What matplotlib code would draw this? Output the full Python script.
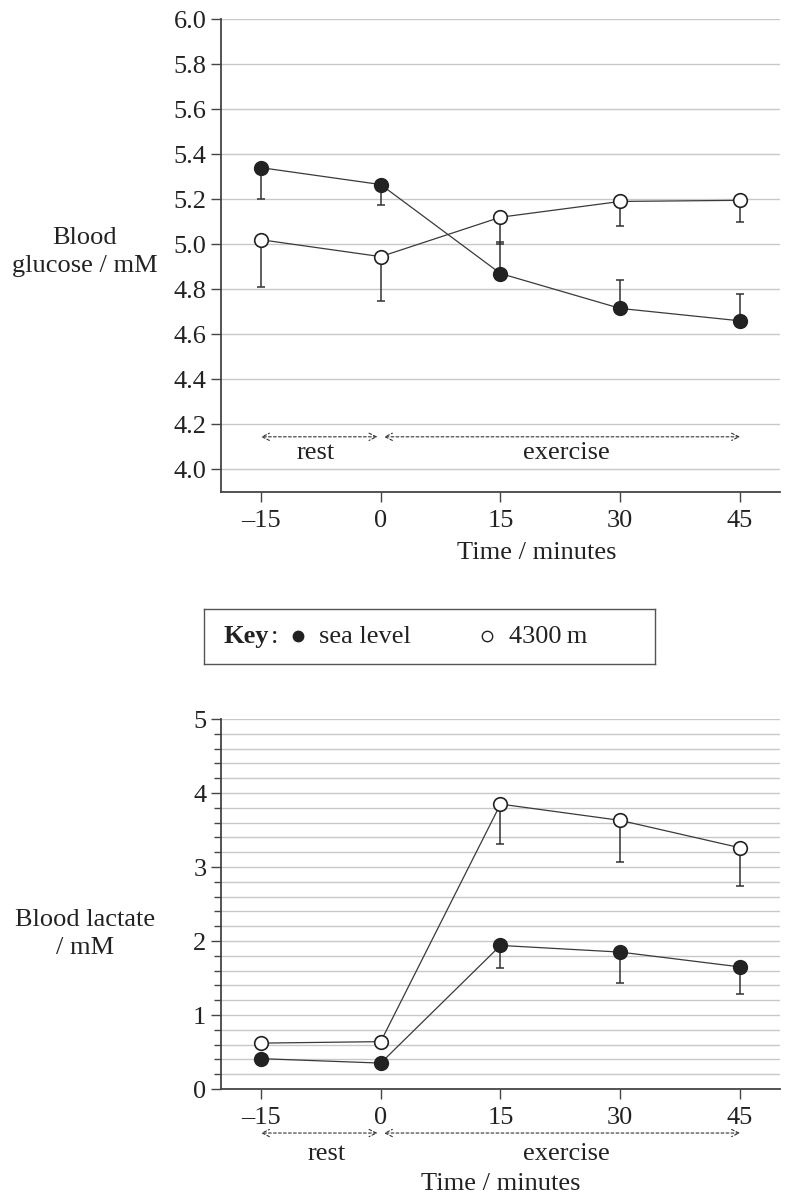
import matplotlib
matplotlib.use('Agg')
import matplotlib.pyplot as plt
import numpy as np

plt.rcParams['font.family'] = 'Liberation Serif'
plt.rcParams['font.size'] = 19

# time points (minutes)
times = [-15, 0, 15, 30, 45]
time_ticks = [-15, 0, 15, 30, 45]

# blood glucose / mM, error bars drawn one way only
glu_sea = [5.34, 5.265, 4.87, 4.715, 4.66]
glu_sea_lo = [0.14, 0.09, 0.0, 0.0, 0.0]
glu_sea_hi = [0.0, 0.0, 0.14, 0.125, 0.12]
glu_alt = [5.02, 4.945, 5.12, 5.19, 5.195]
glu_alt_lo = [0.21, 0.195, 0.12, 0.11, 0.095]
glu_alt_hi = [0.0, 0.0, 0.0, 0.0, 0.0]

# blood lactate / mM
lac_sea = [0.41, 0.35, 1.94, 1.85, 1.65]
lac_sea_lo = [0.0, 0.0, 0.31, 0.42, 0.37]
lac_sea_hi = [0.0, 0.0, 0.0, 0.0, 0.0]
lac_alt = [0.62, 0.64, 3.85, 3.63, 3.26]
lac_alt_lo = [0.0, 0.0, 0.54, 0.56, 0.52]
lac_alt_hi = [0.0, 0.0, 0.0, 0.0, 0.0]

dark = '#222222'
grid_c = '#c8c8c8'


def series(ax, y, lo, hi, filled):
    ax.errorbar(times, y, yerr=[lo, hi], fmt='none', ecolor='#333333',
                elinewidth=1.1, capsize=3.2, capthick=1.1, zorder=2)
    ax.plot(times, y, color='#3a3a3a', lw=0.9, zorder=2.5)
    ax.plot(times, y, ls='none', marker='o', ms=9.8,
            mfc=dark if filled else 'white', mec=dark, mew=1.2, zorder=3)


def style(ax):
    for s in ['top', 'right']:
        ax.spines[s].set_visible(False)
    for s in ['left', 'bottom']:
        ax.spines[s].set_color('#444444')
        ax.spines[s].set_linewidth(1.3)
    ax.tick_params(which='both', direction='out', color='#444444',
                   labelcolor='#222222', width=1.0)
    ax.tick_params(which='major', length=7)
    ax.tick_params(axis='x', pad=6)
    ax.set_xlim(-20, 50)
    ax.set_xticks(time_ticks)
    ax.set_xticklabels([str(t) if t >= 0 else '\u2013' + str(-t) for t in time_ticks])


def phases(ax, y, xy_coords):
    kw = dict(arrowstyle='<->', linestyle=(0, (2.5, 2)), lw=0.8,
              color='#333333', shrinkA=0, shrinkB=0, mutation_scale=13)
    ax.annotate('', xy=(-15, y), xytext=(-0.4, y), xycoords=xy_coords,
                arrowprops=kw, annotation_clip=False)
    ax.annotate('', xy=(0.4, y), xytext=(45, y), xycoords=xy_coords,
                arrowprops=kw, annotation_clip=False)


fig = plt.figure(figsize=(7.87, 12.02), dpi=100)

# ---------------- glucose ----------------
ax1 = fig.add_axes([221 / 787, 1 - 492 / 1202, 559 / 787, 473 / 1202])
ax1.set_ylim(3.9, 6.0)
ax1.set_yticks(np.arange(4.0, 6.01, 0.2))
ax1.set_yticklabels(['%.1f' % v for v in np.arange(4.0, 6.01, 0.2)])
for v in np.arange(4.0, 6.01, 0.2):
    ax1.axhline(v, color=grid_c, lw=1.0, zorder=0)
style(ax1)
series(ax1, glu_sea, glu_sea_lo, glu_sea_hi, True)
series(ax1, glu_alt, glu_alt_lo, glu_alt_hi, False)
phases(ax1, 4.145, 'data')
ax1.text(-8.2, 4.075, 'rest', ha='center', va='center', color='#222222')
ax1.text(23.3, 4.075, 'exercise', ha='center', va='center', color='#222222')
ax1.text(19.6, -0.128, 'Time / minutes', ha='center', va='center',
         transform=ax1.get_xaxis_transform(), color='#222222')
fig.text(85 / 787, 1 - 252 / 1202, 'Blood\nglucose / mM', ha='center',
         va='center', multialignment='center', linespacing=1.35, color='#222222')

# ---------------- key ----------------
axk = fig.add_axes([204 / 787, 1 - 664 / 1202, 451 / 787, 55 / 1202])
axk.set_xlim(0, 451)
axk.set_ylim(0, 55)
axk.set_xticks([])
axk.set_yticks([])
for s in axk.spines.values():
    s.set_color('#555555')
    s.set_linewidth(1.0)
axk.text(19, 27, 'Key', fontweight='bold', ha='left', va='center', color='#222222')
axk.text(67, 27, ':', ha='left', va='center', color='#222222')
axk.plot([94], [28], marker='o', ms=7.5, mfc=dark, mec=dark, ls='none')
axk.text(115, 27, 'sea level', ha='left', va='center', color='#222222')
axk.plot([283], [28], marker='o', ms=7.5, mfc='white', mec=dark, mew=1.0, ls='none')
axk.text(305, 27, '4300\u2009m', ha='left', va='center', color='#222222')

# ---------------- lactate ----------------
ax2 = fig.add_axes([221 / 787, 1 - 1089 / 1202, 559 / 787, 370 / 1202])
ax2.set_ylim(0, 5)
ax2.set_yticks([0, 1, 2, 3, 4, 5])
ax2.set_yticks(np.arange(0.2, 5.0, 0.2), minor=True)
for v in np.arange(0.2, 5.01, 0.2):
    ax2.axhline(v, color=grid_c, lw=1.0, zorder=0)
style(ax2)
ax2.tick_params(which='minor', length=5)
series(ax2, lac_sea, lac_sea_lo, lac_sea_hi, True)
series(ax2, lac_alt, lac_alt_lo, lac_alt_hi, False)
phases(ax2, -0.119, ('data', 'axes fraction'))
ax2.text(-6.8, -0.175, 'rest', ha='center', va='center',
         transform=ax2.get_xaxis_transform(), color='#222222')
ax2.text(23.3, -0.175, 'exercise', ha='center', va='center',
         transform=ax2.get_xaxis_transform(), color='#222222')
ax2.text(15, -0.258, 'Time / minutes', ha='center', va='center',
         transform=ax2.get_xaxis_transform(), color='#222222')
fig.text(85 / 787, 1 - 934 / 1202, 'Blood lactate\n/ mM', ha='center',
         va='center', multialignment='center', linespacing=1.35, color='#222222')

fig.savefig('out.png', dpi=100)
